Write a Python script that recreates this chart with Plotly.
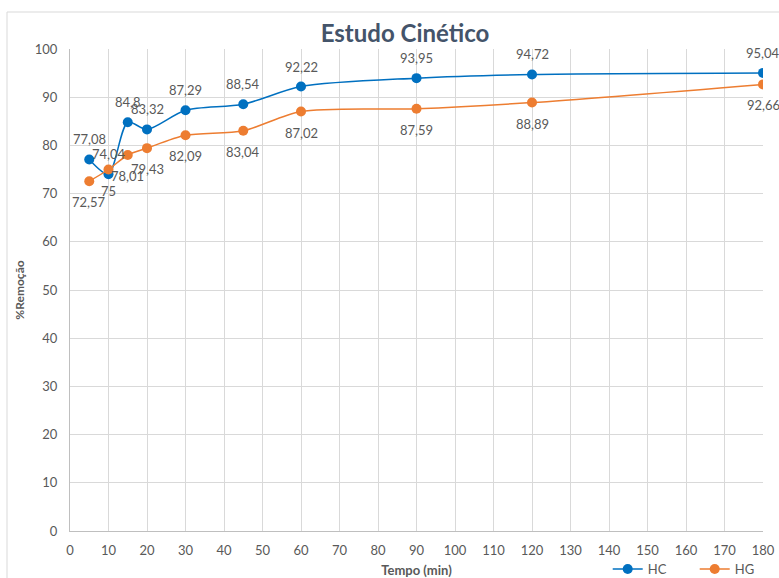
import plotly.graph_objects as go

tempo = [5, 10, 15, 20, 30, 45, 60, 90, 120, 180]
hc = [77.08, 74.04, 84.8, 83.32, 87.29, 88.54, 92.22, 93.95, 94.72, 95.04]
hg = [72.57, 75, 78.01, 79.43, 82.09, 83.04, 87.02, 87.59, 88.89, 92.66]
x_ticks = list(range(0, 181, 10))
y_ticks = list(range(0, 101, 10))

def fmt(v):
    return f"{v:g}".replace(".", ",")

FONT = "Lato, Open Sans, sans-serif"
LBL = dict(family=FONT, size=13, color="#595959")

fig = go.Figure()
fig.add_trace(go.Scatter(
    x=tempo, y=hc, name="HC", mode="lines+markers",
    line=dict(color="#0070C0", width=1.5, shape="spline", smoothing=0.8),
    marker=dict(color="#0070C0", size=10),
))
fig.add_trace(go.Scatter(
    x=tempo, y=hg, name="HG", mode="lines+markers",
    line=dict(color="#ED7D31", width=1.5, shape="spline", smoothing=0.8),
    marker=dict(color="#ED7D31", size=10),
))

annotations = []
for xv, yv in zip(tempo, hc):
    annotations.append(dict(x=xv, y=yv, text=fmt(yv), showarrow=False,
                            yshift=20, font=LBL, xanchor="center", yanchor="middle"))
for xv, yv in zip(tempo, hg):
    annotations.append(dict(x=xv, y=yv, text=fmt(yv), showarrow=False,
                            yshift=-21, font=LBL, xanchor="center", yanchor="middle"))

W, H = 779, 578
L, T, R, B = 70, 49, 16, 47
PW, PH = W - L - R, H - T - B

fig.update_layout(
    width=W, height=H,
    margin=dict(l=L, r=R, t=T, b=B, autoexpand=False),
    paper_bgcolor="white", plot_bgcolor="white",
    font=dict(family=FONT, color="#595959", size=13),
    title=dict(text="<b>Estudo Cinético</b>", x=405 / W, xanchor="center",
               y=1 - 34 / H, yanchor="middle",
               font=dict(size=24, color="#44546A", family=FONT)),
    xaxis=dict(range=[0, 180], tickvals=x_ticks, showgrid=True, gridcolor="#D9D9D9",
               gridwidth=1, zeroline=False, showline=True, linecolor="#BFBFBF",
               ticks="", ticklabelstandoff=7, automargin=False,
               tickfont=dict(size=13, color="#595959"),
               title=dict(text="<b>Tempo (min)</b>", standoff=17,
                          font=dict(size=13, color="#595959"))),
    yaxis=dict(range=[0, 100], tickvals=y_ticks, showgrid=True, gridcolor="#D9D9D9",
               gridwidth=1, zeroline=False, showline=True, linecolor="#BFBFBF",
               ticks="", ticklabelstandoff=9, automargin=False,
               tickfont=dict(size=13, color="#595959"),
               title=dict(text="<b>%Remoção</b>", standoff=7,
                          font=dict(size=12, color="#595959"))),
    legend=dict(orientation="h", x=1.027, xanchor="right", y=-38 / PH, yanchor="middle",
                font=dict(size=13, color="#595959"), bgcolor="rgba(0,0,0,0)",
                entrywidth=42, traceorder="normal"),
    annotations=annotations,
    shapes=[dict(type="rect", xref="paper", yref="paper",
                 x0=(7 - L) / PW, x1=1.2, y0=-0.3, y1=(PH + T - 12) / PH,
                 line=dict(color="#D9D9D9", width=1), layer="below")],
)

fig.write_html(
    "out.html",
    config={"displayModeBar": False},
    post_script="document.body.style.margin='0';document.body.style.overflow='hidden';",
)
